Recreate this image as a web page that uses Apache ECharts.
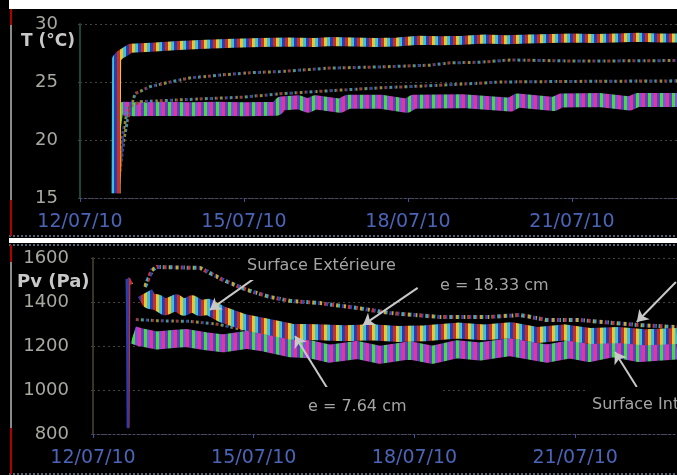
<!DOCTYPE html>
<html><head><meta charset="utf-8">
<script src="https://cdn.jsdelivr.net/npm/echarts@6/dist/echarts.min.js"></script>
<style>html,body{margin:0;padding:0;background:#000;overflow:hidden}#c{width:677px;height:475px}</style>
</head><body><div id="c"></div>
<script>
// x values: days since 12/07/10 00:00
const tickLabels = ['12/07/10', '15/07/10', '18/07/10', '21/07/10'];

// --- Top chart: T (°C) ---
const tExtDays = [0.66, 0.67, 0.72, 0.82, 0.92, 1.3, 1.8, 2.3, 2.8, 3.3, 3.8, 4.3, 4.6, 5.0, 5.4, 5.8, 6.2, 6.6, 7.0, 7.4, 7.8, 8.2, 8.6, 9.0, 9.4, 9.8, 10.2, 10.6, 10.92];
const tExtVals = [15.4, 27.0, 27.3, 27.6, 27.9, 28.0, 28.15, 28.25, 28.35, 28.4, 28.45, 28.4, 28.5, 28.45, 28.4, 28.45, 28.6, 28.55, 28.6, 28.7, 28.65, 28.7, 28.75, 28.8, 28.75, 28.8, 28.85, 28.8, 28.8];

const t18Days = [0.7, 0.8, 0.91, 1.01, 1.28, 1.65, 2.01, 2.56, 3.11, 3.66, 4.57, 5.49, 6.4, 6.77, 7.32, 7.87, 9.09, 10.92];
const t18Vals = [16.0, 20.0, 22.6, 24.0, 24.6, 25.0, 25.35, 25.6, 25.8, 25.9, 26.2, 26.3, 26.45, 26.65, 26.7, 26.9, 26.8, 26.85];

const t7Days = [0.7, 0.78, 0.88, 1.1, 2.0, 3.0, 3.7, 4.76, 5.5, 6.5, 7.7, 9.0, 10.92];
const t7Vals = [15.8, 20.5, 22.8, 23.3, 23.5, 23.7, 24.0, 24.3, 24.5, 24.7, 25.0, 25.05, 25.1];

const tIntDays = [0.74, 0.8, 1.0, 1.5, 2.0, 2.5, 3.0, 3.6, 3.68, 4.0, 4.17, 4.3, 4.76, 4.9, 5.5, 5.98, 6.1, 7.0, 7.87, 8.0, 8.67, 8.8, 9.5, 10.06, 10.2, 10.92];
const tIntVals = [22.4, 22.7, 22.65, 22.7, 22.65, 22.7, 22.65, 22.7, 23.15, 23.25, 22.95, 23.25, 22.95, 23.3, 23.3, 22.95, 23.3, 23.35, 23.05, 23.4, 23.1, 23.4, 23.45, 23.15, 23.45, 23.45];
const tIntStartDays = [0.68, 0.72, 0.76];
const tIntStartVals = [16.0, 21.0, 22.4];

// --- Bottom chart: Pv (Pa) ---
const pvTopDays = [0.97, 1.10, 1.19, 2.0, 2.43, 2.87, 3.30, 3.68, 4.24, 4.93, 5.54, 6.47, 7.41, 7.97, 8.47, 9.09, 9.70, 10.2, 10.9];
const pvTopVals = [1468, 1545, 1559, 1555, 1500, 1455, 1423, 1405, 1395, 1373, 1350, 1332, 1332, 1341, 1318, 1318, 1305, 1295, 1286];

const pvExtDays = [0.97, 1.05, 1.2, 1.35, 1.55, 1.7, 1.85, 2.0, 2.15, 2.4, 2.8, 3.2, 3.7, 4.2, 4.7, 5.2, 5.7, 6.2, 6.8, 7.3, 7.8, 8.3, 8.8, 9.3, 9.8, 10.3, 10.9];
const pvExtVals = [1440, 1405, 1398, 1376, 1398, 1374, 1394, 1372, 1378, 1345, 1310, 1290, 1265, 1262, 1258, 1262, 1255, 1258, 1270, 1262, 1272, 1250, 1262, 1245, 1250, 1240, 1245];

const pvMidDays = [0.80, 1.2, 1.8, 2.3, 2.8, 3.3, 3.8, 4.5, 5.5, 6.5, 7.5, 8.5, 9.5, 10.9];
const pvMidVals = [1320, 1315, 1312, 1300, 1275, 1255, 1240, 1235, 1232, 1240, 1245, 1232, 1225, 1222];

const pvIntDays = [0.75, 0.88, 1.19, 1.49, 1.75, 2.09, 2.43, 2.87, 3.21, 3.68, 4.05, 4.42, 4.93, 5.35, 5.91, 6.34, 6.79, 7.22, 7.78, 8.47, 8.90, 9.27, 9.70, 10.2, 10.9];
const pvIntVals = [1250, 1240, 1225, 1232, 1236, 1222, 1212, 1228, 1215, 1190, 1185, 1165, 1182, 1160, 1180, 1160, 1185, 1175, 1195, 1165, 1185, 1168, 1190, 1168, 1180];

const pvSpikeDays = [0.64, 0.655, 0.67, 0.72];
const pvSpikeVals = [1505, 832, 1505, 1480];

// annotation arrows (data space of the Pv chart): [fromDay, fromPa, toDay, toPa]
const pvArrows = [
  [3.23, 1545, 2.18, 1364],
  [6.06, 1464, 5.04, 1295],
  [10.88, 1491, 10.15, 1309],
  [4.37, 1009, 3.77, 1245],
  [10.15, 1014, 9.74, 1173]
];

const zip = (a, b) => a.map((v, i) => [v, b[i]]);

function stripes(colors, w) {
  const W = 700, stops = [];
  const n = Math.ceil(W / w);
  for (let i = 0; i < n; i++) {
    const c = colors[i % colors.length];
    stops.push({ offset: Math.min(1, i * w / W), color: c });
    stops.push({ offset: Math.min(1, (i + 1) * w / W), color: c });
  }
  return new echarts.graphic.LinearGradient(0, 0, W, 0, stops, true);
}
const warm = stripes(['#e6c82c', '#3cc0e0', '#2c3cb0', '#c83024'], 3);
const cool = stripes(['#3ce03c', '#9048e8', '#e03898', '#5c40c0'], 3);
const dimDots = stripes(['#a83c2c', '#3048a8', '#948a2c', '#3c90a8'], 2);
const brightDots = stripes(['#d0a424', '#34a8c8', '#c83434', '#3444b4'], 2);

const FONT = 'DejaVu Sans';
const fmt = v => {
  const i = Math.round(v / 3);
  return Math.abs(v - i * 3) < 1e-6 && tickLabels[i] ? tickLabels[i] : '';
};
const gridLine = { color: '#44443c', type: [2, 3], width: 1 };

function xAxisCfg(gi, max) {
  return {
    type: 'value', gridIndex: gi, min: 0, max: max, interval: 3,
    axisLine: { show: true, onZero: false, lineStyle: { color: '#4a4a66', type: [2, 2], width: 1 } },
    axisTick: { show: true, length: 4, lineStyle: { color: '#3c50a0' } },
    axisLabel: { formatter: fmt, color: '#4a64b8', fontSize: 19, fontFamily: FONT, margin: 15, showMaxLabel: false },
    splitLine: { show: false }
  };
}
function yAxisCfg(gi, min, max, interval, axisColor, margin) {
  return {
    type: 'value', gridIndex: gi, min: min, max: max, interval: interval,
    axisLine: { show: true, lineStyle: { color: axisColor, width: 2 } },
    axisTick: { show: true, length: 5, lineStyle: gridLine },
    axisLabel: { color: '#a8a8a0', fontSize: 18, fontFamily: FONT, margin: margin, formatter: v => String(v) },
    splitLine: { show: true, lineStyle: gridLine }
  };
}
function lineSeries(xi, data, color, width, dash, z) {
  return {
    type: 'line', xAxisIndex: xi, yAxisIndex: xi, data: data, showSymbol: false, symbol: 'none',
    lineStyle: { color: color, width: width, type: dash || 'solid', cap: 'butt', join: 'round' },
    z: z || 2, silent: true
  };
}

const chart = echarts.init(document.getElementById('c'), null, { renderer: 'canvas' });
const arrowData = pvArrows.map(a => [{ coord: [a[0], a[1]] }, { coord: [a[2], a[3]] }]);

const annText = (text, x, y, pad) => ({
  type: 'text', x: x, y: y, z: 50,
  style: { text: text, fill: '#a4a4a4', font: '16px "' + FONT + '"', verticalAlign: 'top', align: 'left', backgroundColor: '#000', padding: pad }
});

chart.setOption({
  backgroundColor: '#000',
  animation: false,
  title: [
    { text: 'T (°C)', left: 21, top: 33, padding: 0, textStyle: { color: '#c8c8c8', fontSize: 17, fontWeight: 'bold', fontFamily: FONT } },
    { text: 'Pv (Pa)', left: 17, top: 273, padding: 0, textStyle: { color: '#c8c8c8', fontSize: 18, fontWeight: 'bold', fontFamily: FONT } }
  ],
  grid: [
    { left: 80, right: 0, top: 24, height: 174 },
    { left: 93, right: 0, top: 258, height: 176 }
  ],
  xAxis: [xAxisCfg(0, 10.92), xAxisCfg(1, 10.90)],
  yAxis: [yAxisCfg(0, 15, 30, 5, '#1e4638', 22), yAxisCfg(1, 800, 1600, 200, '#3a3420', 24)],
  series: [
    lineSeries(0, zip(tIntStartDays, tIntStartVals), cool, 3, null, 2),
    lineSeries(0, zip(tIntDays, tIntVals), cool, 14, null, 2),
    lineSeries(0, zip(t7Days, t7Vals), dimDots, 3, [3, 2], 3),
    lineSeries(0, zip(t18Days, t18Vals), dimDots, 3, [3, 2], 3),
    lineSeries(0, zip(tExtDays, tExtVals), warm, 9, null, 4),

    lineSeries(1, zip(pvIntDays, pvIntVals), cool, 18, null, 2),
    lineSeries(1, zip(pvMidDays, pvMidVals), dimDots, 3, [3, 2], 3),
    lineSeries(1, zip(pvTopDays, pvTopVals), brightDots, 4, [4, 2], 3),
    lineSeries(1, zip(pvSpikeDays, pvSpikeVals), warm, 3, null, 3),
    Object.assign(lineSeries(1, zip(pvExtDays, pvExtVals), warm, 16, null, 4), {
      markLine: {
        silent: true, symbol: ['none', 'arrow'], symbolSize: 11, precision: 4,
        lineStyle: { color: '#c8c8c8', width: 2, type: 'solid' },
        label: { show: false }, emphasis: { disabled: true },
        data: arrowData
      }
    })
  ],
  graphic: [
    { type: 'rect', shape: { x: 9, y: 0, width: 668, height: 9 }, style: { fill: '#fff' }, z: 60 },
    { type: 'rect', shape: { x: 9, y: 238, width: 668, height: 5 }, style: { fill: '#fff' }, z: 60 },
    { type: 'line', shape: { x1: 9, y1: 236, x2: 677, y2: 236 }, style: { stroke: '#506070', lineDash: [2, 2], lineWidth: 2 }, z: 60 },
    { type: 'line', shape: { x1: 9, y1: 245, x2: 677, y2: 245 }, style: { stroke: '#506070', lineDash: [2, 2], lineWidth: 2 }, z: 60 },
    { type: 'line', shape: { x1: 9, y1: 474, x2: 677, y2: 474 }, style: { stroke: '#506070', lineDash: [2, 2], lineWidth: 2 }, z: 60 },
    { type: 'rect', shape: { x: 10, y: 9, width: 2, height: 16 }, style: { fill: '#b00000' }, z: 60 },
    { type: 'rect', shape: { x: 10, y: 25, width: 2, height: 175 }, style: { fill: '#8a8a8a' }, z: 60 },
    { type: 'rect', shape: { x: 10, y: 200, width: 2, height: 36 }, style: { fill: '#b00000' }, z: 60 },
    { type: 'rect', shape: { x: 10, y: 245, width: 2, height: 17 }, style: { fill: '#b00000' }, z: 60 },
    { type: 'rect', shape: { x: 10, y: 262, width: 2, height: 166 }, style: { fill: '#8a8a8a' }, z: 60 },
    { type: 'rect', shape: { x: 10, y: 428, width: 2, height: 46 }, style: { fill: '#b00000' }, z: 60 },
    annText('Surface Extérieure', 240, 252, [6, 24, 6, 7]),
    annText('e = 18.33 cm', 434, 275, [3, 6, 3, 6]),
    annText('e = 7.64 cm', 302, 387, [12, 34, 6, 6]),
    annText('Surface Intérieure', 587, 387, [10, 6, 6, 5])
  ]
});
</script></body></html>
